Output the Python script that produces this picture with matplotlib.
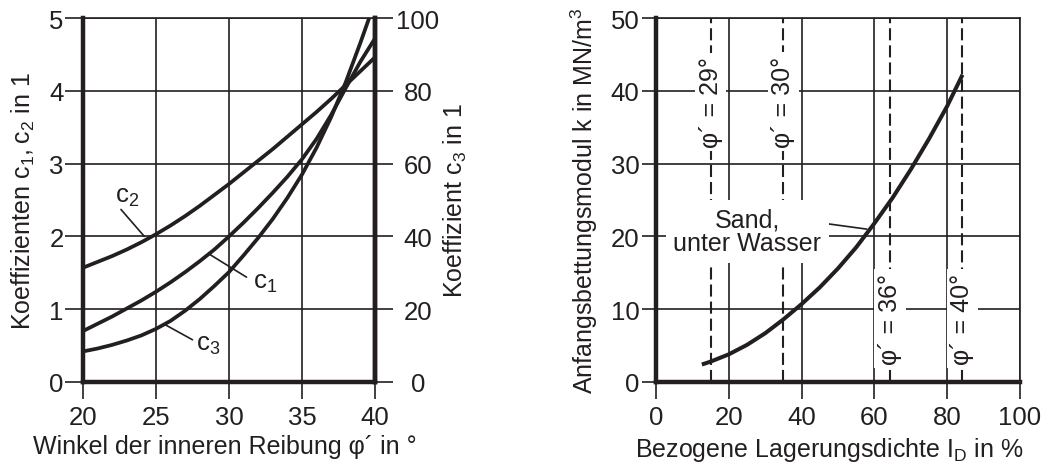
import matplotlib
matplotlib.use('Agg')
import matplotlib.pyplot as plt
import numpy as np

plt.rcParams['font.family'] = ['Liberation Sans', 'DejaVu Sans']
plt.rcParams['mathtext.fontset'] = 'custom'
plt.rcParams['mathtext.rm'] = 'Liberation Sans'

INK = '#231f20'

# left chart: coefficients vs friction angle
phi = [20, 21, 22, 23, 24, 25, 26, 27, 28, 29, 30,
       31, 32, 33, 34, 35, 36, 37, 38, 39, 40]
c1 = [0.70, 0.80, 0.90, 1.01, 1.12, 1.24, 1.37, 1.51, 1.66, 1.82, 2.00,
      2.19, 2.39, 2.60, 2.82, 3.06, 3.34, 3.67, 4.04, 4.40, 4.72]
c2 = [1.57, 1.65, 1.73, 1.82, 1.92, 2.03, 2.15, 2.28, 2.42, 2.57, 2.72,
      2.88, 3.04, 3.20, 3.37, 3.54, 3.71, 3.89, 4.08, 4.27, 4.46]
phi_c3 = [20, 21, 22, 23, 24, 25, 26, 27, 28, 29, 30,
          31, 32, 33, 34, 35, 36, 37, 38, 39, 39.6]
c3 = [8.4, 9.2, 10.2, 11.4, 12.8, 14.6, 16.8, 19.6, 22.8, 26.4, 30.2,
      34.8, 39.6, 44.8, 50.6, 57.0, 64.4, 72.8, 82.4, 93.2, 100.0]

# right chart: subgrade modulus vs relative density
ID = [12.6, 15, 20, 25, 30, 35, 40, 45, 50, 55, 60, 65, 70, 75, 80, 84.2]
k = [2.4, 2.8, 3.8, 5.1, 6.7, 8.6, 10.7, 13.0, 15.6, 18.5, 21.8, 25.3, 29.2, 33.4, 37.9, 42.2]
phi_lines = [15, 35, 64.3, 84.2]
phi_names = ['29°', '30°', '36°', '40°']
phi_label_y = [38.5, 38.5, 8.7, 8.7]

FS_TICK = 18.5
FS_LAB = 18

fig = plt.figure(figsize=(10.43, 4.64), dpi=100)

# ---------- left ----------
ax1 = fig.add_axes([83/1043, 1-383/464, 292/1043, 364/464])
ax1.set_xlim(20, 40)
ax1.set_ylim(0, 5)
ax1.set_xticks([20, 25, 30, 35, 40])
ax1.set_yticks([0, 1, 2, 3, 4, 5])
ax1.grid(True, color=INK, lw=1.2)
ax1.set_axisbelow(True)
ax1.plot(phi, c1, color=INK, lw=2.7, solid_capstyle='butt', zorder=3)
ax1.plot(phi, c2, color=INK, lw=2.7, solid_capstyle='butt', zorder=3)
for s in ['left', 'bottom', 'right']:
    ax1.spines[s].set_linewidth(3.2)
    ax1.spines[s].set_color(INK)
ax1.spines['top'].set_linewidth(1.2)
ax1.spines['top'].set_color(INK)
ax1.tick_params(axis='y', direction='out', length=13, width=1.2, pad=1,
                labelsize=FS_TICK, colors=INK)
ax1.tick_params(axis='x', direction='out', length=12.5, width=1.2, pad=4,
                labelsize=FS_TICK, colors=INK)
ax1.set_xlabel('Winkel der inneren Reibung φ´ in °', fontsize=FS_LAB, color=INK)
ax1.set_ylabel(r'Koeffizienten $\mathregular{c_1,c_2}$ in 1', fontsize=FS_LAB, color=INK)
ax1.xaxis.set_label_coords(0.486, -0.143)
ax1.yaxis.set_label_coords(-0.158, 0.5)

ax1b = ax1.twinx()
ax1b.set_ylim(0, 100)
ax1b.set_yticks([0, 20, 40, 60, 80, 100])
ax1b.plot(phi_c3, c3, color=INK, lw=2.7, solid_capstyle='butt', zorder=3)
for s in ['left', 'bottom', 'top']:
    ax1b.spines[s].set_visible(False)
ax1b.spines['right'].set_linewidth(3.2)
ax1b.spines['right'].set_color(INK)
ax1b.tick_params(axis='y', direction='out', length=13, width=1.2, pad=18,
                 labelsize=FS_TICK, colors=INK)
for lab in ax1b.get_yticklabels():
    lab.set_horizontalalignment('center')
ax1b.set_ylabel(r'Koeffizient $\mathregular{c_3}$ in 1', fontsize=FS_LAB, color=INK)
ax1b.yaxis.set_label_coords(1.229, 0.5)

line_kw = dict(arrowprops=dict(arrowstyle='-', color=INK, lw=1.2,
                               shrinkA=0, shrinkB=0))
ax1.annotate('', xy=(24.2, 2.0), xytext=(22.6, 2.37), **line_kw)
ax1.annotate('', xy=(28.7, 1.75), xytext=(31.2, 1.44), **line_kw)
ax1.annotate('', xy=(25.6, 0.79), xytext=(27.5, 0.58), **line_kw)
ax1.text(23.0, 2.56, r'$\mathregular{c_2}$', fontsize=FS_TICK, color=INK,
         ha='center', va='center')
ax1.text(32.5, 1.37, r'$\mathregular{c_1}$', fontsize=FS_TICK, color=INK,
         ha='center', va='center')
ax1.text(28.6, 0.52, r'$\mathregular{c_3}$', fontsize=FS_TICK, color=INK,
         ha='center', va='center')

# ---------- right ----------
ax2 = fig.add_axes([656/1043, 1-383/464, 364/1043, 364/464])
ax2.set_xlim(0, 100)
ax2.set_ylim(0, 50)
ax2.set_xticks([0, 20, 40, 60, 80, 100])
ax2.set_yticks([0, 10, 20, 30, 40, 50])
ax2.grid(True, color=INK, lw=1.2)
ax2.set_axisbelow(True)
for x in phi_lines:
    ax2.plot([x, x], [0, 50], color=INK, lw=1.5, linestyle=(0, (5.8, 2.4)),
             zorder=1.5)
ax2.plot(ID, k, color=INK, lw=2.9, solid_capstyle='butt', zorder=3)
for s in ['left', 'bottom']:
    ax2.spines[s].set_linewidth(3.2)
    ax2.spines[s].set_color(INK)
for s in ['right', 'top']:
    ax2.spines[s].set_linewidth(1.2)
    ax2.spines[s].set_color(INK)
ax2.tick_params(axis='y', direction='out', length=10, width=1.2, pad=2,
                labelsize=FS_TICK, colors=INK)
ax2.tick_params(axis='x', direction='out', length=12.5, width=1.2, pad=4,
                labelsize=FS_TICK, colors=INK)
ax2.set_xlabel(r'Bezogene Lagerungsdichte $\mathregular{I_D}$ in %', fontsize=FS_LAB, color=INK)
ax2.set_ylabel(r'Anfangsbettungsmodul k in $\mathregular{MN/m^3}$', fontsize=FS_LAB, color=INK)
ax2.xaxis.set_label_coords(0.475, -0.145)
ax2.yaxis.set_label_coords(-0.154, 0.5)

for x, name, y in zip(phi_lines, phi_names, phi_label_y):
    ax2.text(x, y, 'φ´ = ' + name, rotation=90, fontsize=FS_LAB, color=INK,
             ha='center', va='center', zorder=4,
             bbox=dict(boxstyle='square,pad=0.15', fc='white', ec='none'))

ax2.annotate('', xy=(57.9, 21.0), xytext=(37.3, 22.4), **line_kw)
ax2.text(25.0, 20.7, 'Sand,\nunter Wasser', fontsize=FS_LAB, color=INK,
         ha='center', va='center', linespacing=1.0, zorder=4,
         bbox=dict(boxstyle='square,pad=0.3', fc='white', ec='none'))

fig.savefig('out.png', dpi=100)
